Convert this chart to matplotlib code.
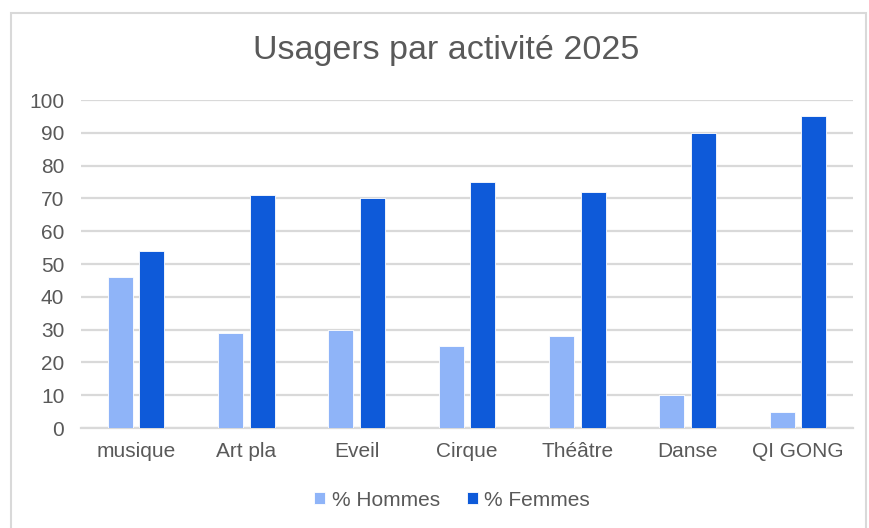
import numpy as np
import matplotlib.pyplot as plt
from matplotlib.patches import Rectangle

plt.rcParams['font.family'] = ['Liberation Sans', 'DejaVu Sans']

# Data
categories = ['musique', 'Art pla', 'Eveil', 'Cirque', 'Théâtre', 'Danse', 'QI GONG']
hommes = [46, 29, 30, 25, 28, 10, 5]
femmes = [54, 71, 70, 75, 72, 90, 95]
yticks = list(range(0, 101, 10))

light_blue = '#8FB4F8'
dark_blue = '#0E5AD9'
text_gray = '#595959'
grid_gray = '#D9D9D9'

fig = plt.figure(figsize=(8.69, 5.28), dpi=100)
ax = fig.add_axes([81/869, 1 - 428/528, (853 - 81)/869, (428 - 100)/528])

x = np.arange(len(categories))
w = 0.227
off = 0.143
ax.bar(x - off, hommes, w, color=light_blue, edgecolor='white', linewidth=0.6,
       label='% Hommes', zorder=3)
ax.bar(x + off, femmes, w, color=dark_blue, edgecolor='white', linewidth=0.6,
       label='% Femmes', zorder=3)

ax.set_xlim(-0.5, len(categories) - 0.5)
ax.set_ylim(0, 100)
ax.set_yticks(yticks)
ax.set_xticks(x)
ax.set_xticklabels(categories)
ax.tick_params(axis='both', length=0, labelsize=15, colors=text_gray)
ax.tick_params(axis='x', pad=10)
ax.tick_params(axis='y', pad=12)
ax.grid(axis='y', color=grid_gray, linewidth=1.6, zorder=0)
ax.set_axisbelow(True)
for s in ['top', 'right', 'left']:
    ax.spines[s].set_visible(False)
ax.spines['bottom'].set_color(grid_gray)
ax.spines['bottom'].set_linewidth(1.6)

fig.text(446/869, 1 - 50/528, 'Usagers par activité 2025', ha='center', va='center',
         fontsize=24.5, color=text_gray)

fig.legend(loc='center', bbox_to_anchor=(452/869, 1 - 500/528), ncol=2, frameon=False,
           fontsize=15, labelcolor=text_gray, handlelength=0.55, handleheight=0.55,
           handletextpad=0.3, columnspacing=1.3)

# chart area border
fig.patches.append(Rectangle((11/869, -0.02), (866 - 11)/869, 1 - 13/528 + 0.02,
                             transform=fig.transFigure, fill=False,
                             edgecolor='#D9D9D9', linewidth=1.5))

fig.savefig('out.png', dpi=100)
